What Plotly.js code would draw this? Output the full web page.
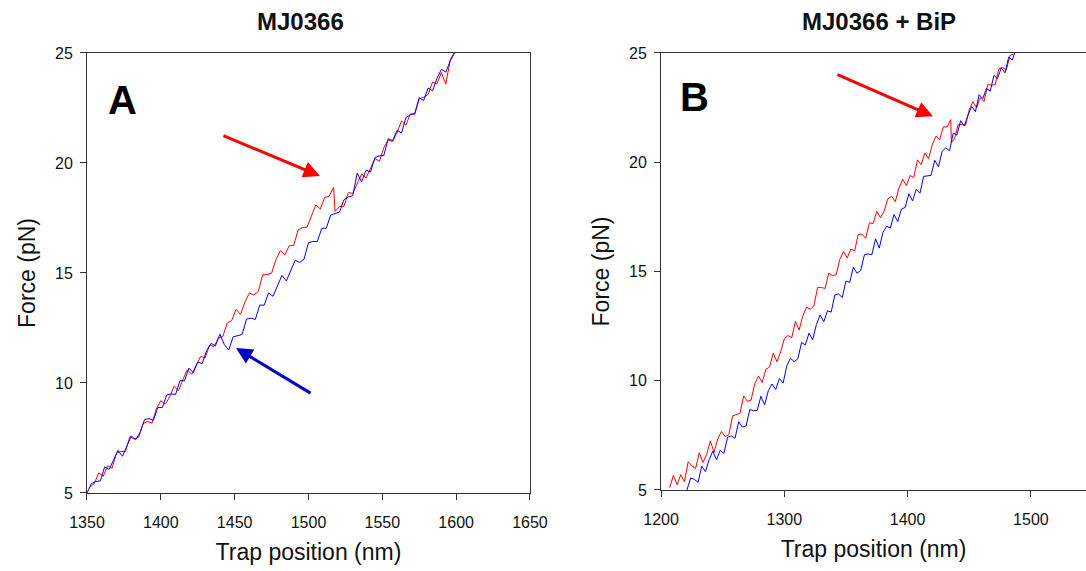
<!DOCTYPE html>
<html>
<head>
<meta charset="utf-8">
<script src="https://cdn.plot.ly/plotly-3.0.1.min.js"></script>
<style>html,body{margin:0;padding:0;background:#fff;}#chart{width:1086px;height:571px;}</style>
</head>
<body>
<div id="chart"></div>
<script>
// Panel A (MJ0366)
const panelA_title = "MJ0366";
const panelA_xTicks = [1350, 1400, 1450, 1500, 1550, 1600, 1650];
const panelA_redX = [1352,1355,1358,1361,1364,1367,1370,1373,1376,1379,1382,1385,1388,1391,1394,1397,1400,1403,1406,1409,1412,1415,1418,1421,1424,1427,1430,1433,1436,1439,
  1442,1445,1448,1451,1454,1457,1460,1463,1466,1469,1472,1475,1478,1481,1484,1487,1490,1493,1496,1499,1502,1505,1508,1511,1514,1517,
  1518,
  1521,1524,1527,1530,1533,1536,1539,1542,1545,1548,1551,1554,1557,1560,1563,1566,1569,1572,1575,1578,1581,1584,1587,1590,1593,1596,1599];
const panelA_redY = [5.26,5.44,5.92,5.76,6.24,6.13,6.81,6.89,6.88,7.56,7.45,7.53,8.16,8.25,8.18,8.82,9.20,9.03,9.37,9.85,9.64,10.17,10.60,10.39,10.82,11.21,11.14,11.72,11.66,12.04,
  12.12,12.73,12.84,13.35,13.12,13.68,14.09,14.00,14.16,14.92,14.93,14.99,15.61,16.02,15.83,16.24,16.25,16.96,17.07,17.08,17.59,18.10,17.91,18.43,18.49,18.90,
  17.80,
  18.02,18.03,18.65,18.62,19.04,19.50,19.32,19.79,20.20,20.07,20.69,21.05,20.97,21.39,21.91,21.72,22.24,22.21,22.92,22.99,23.11,23.68,23.59,24.11,23.58,24.69,25.06];
const panelA_blueX = [1350,1353,1356,1359,1362,1365,1368,1371,1374,1377,1380,1383,1386,1389,1392,1395,1398,1401,1404,1407,1410,1413,1416,1419,1422,1425,1428,1431,1434,1437,1440,
  1443,1446,1449,1452,1455,1458,1461,1464,1467,1470,1473,1476,1479,1482,1485,1488,1491,1494,1497,1500,1503,1506,1509,1512,1515,1518,
  1521,1524,1527,1530,1533,1536,1539,1542,1545,1548,1551,1554,1557,1560,1563,1566,1569,1572,1575,1578,1581,1584,1587,1590,1593,1596,1599,1602];
const panelA_blueY = [5.00,5.43,5.52,5.55,6.19,6.07,6.50,6.94,6.67,7.11,7.59,7.42,7.76,8.34,8.38,8.31,8.89,8.88,9.46,9.50,9.48,10.11,10.10,10.68,10.47,10.95,10.88,11.47,11.80,11.69,12.22,
  11.75,11.50,12.10,12.15,12.20,12.90,12.95,12.89,13.54,13.54,14.09,13.94,14.44,14.89,14.64,15.14,15.58,15.48,15.63,16.38,16.43,16.43,17.03,17.03,17.63,17.70,
  17.77,18.33,18.45,18.52,19.54,19.15,19.67,19.59,20.25,20.32,20.34,21.10,21.02,21.49,21.36,22.07,22.19,22.26,22.97,22.84,23.41,23.28,23.84,24.26,24.13,24.64,25.01,25.08];

// Panel B (MJ0366 + BiP)
const panelB_title = "MJ0366 + BiP";
const panelB_xTicks = [1200, 1300, 1400, 1500];
const panelB_redX = [1207,1210,1213,1216,1219,1222,1225,1228,1231,1234,1237,1240,1243,1246,1249,1252,1255,1258,1261,1264,1267,1270,1273,1276,1279,
  1282,1285,1288,1291,1294,1297,1300,1303,1306,1309,1312,1315,1318,1321,1324,1327,1330,1333,1336,1339,
  1342,1345,1348,1351,1354,1357,1360,1363,1366,1369,1372,1375,1378,1381,1384,1387,1390,1393,1396,1399,1402,1405,1408,
  1411,1414,1417,1420,1423,1426,1429,1432,1435,1435.5,
  1438,1441,1444,1447,1450,1453,1456,1459,1462,1465,1468,1471,1474,1477,1480,1483,1486];
const panelB_redY = [5.10,5.67,5.24,5.70,5.37,6.29,6.11,5.98,6.70,6.26,
  6.63,7.25,6.72,7.34,7.68,7.44,7.54,8.39,8.45,8.50,
  9.30,9.06,9.11,9.86,10.22,9.92,10.52,10.62,11.27,10.87,
  11.32,11.92,12.07,11.97,12.72,12.32,12.97,13.37,13.27,13.42,
  14.27,14.27,14.22,14.92,14.82,14.84,15.55,15.91,15.62,16.03,
  15.94,16.70,16.71,16.52,17.23,17.19,17.75,17.46,17.77,18.33,
  18.44,18.20,18.81,19.22,18.93,19.39,19.30,20.11,19.89,20.42,
  20.16,20.80,21.19,21.03,21.62,21.61,21.95,
  20.90,
  21.07,21.72,21.73,21.69,22.40,22.77,22.49,22.96,22.78,23.55,23.53,23.55,24.27,24.34,24.21,24.88,24.95];
const panelB_blueX = [1221,1224,1227,1230,1233,1236,1239,1242,1245,1248,1251,1254,1257,1260,1263,1266,1269,1272,1275,1278,1281,1284,1287,1290,1293,
  1296,1299,1302,1305,1308,1311,1314,1317,1320,1323,1326,1329,1332,1335,1338,1341,1344,1347,1350,1353,1356,
  1359,1362,1365,1368,1371,1374,1377,1380,1383,1386,1389,1392,1395,1398,1401,1404,1407,1410,1413,1416,1419,
  1422,1425,1428,1431,1434,1437,1440,1443,1446,1449,1452,1455,1458,1461,1464,1467,1470,1473,1476,1479,1482,1485,1488];
const panelB_blueY = [5.00,5.55,5.49,5.34,6.09,5.84,6.38,6.78,6.38,6.82,
  6.67,7.42,7.47,7.37,8.12,7.88,7.93,8.68,8.63,8.64,
  9.29,8.89,9.54,9.85,9.60,10.10,9.89,10.68,11.03,10.87,
  11.01,11.75,11.64,12.18,11.88,12.57,13.01,12.70,13.20,13.14,
  13.93,13.97,13.81,14.56,14.50,15.19,14.92,15.05,15.77,15.80,
  15.77,16.49,16.07,16.79,17.07,16.99,17.61,17.29,17.86,17.93,
  18.56,18.23,18.76,18.58,19.35,19.38,19.40,20.09,19.79,20.50,
  20.66,20.52,21.33,21.24,21.90,21.66,22.16,22.55,22.32,23.09,
  22.91,23.38,23.25,23.97,23.84,24.32,24.09,24.81,24.68,25.20];

const yTicks = [5, 10, 15, 20, 25];
const xTitle = "Trap position (nm)";
const yTitle = "Force (pN)";

const RED = "#FF0000", BLUE = "#0000FF";
const FONT = "Liberation Sans, Arial, Helvetica, sans-serif";

const traces = [
  {x: panelA_redX, y: panelA_redY, xaxis: "x", yaxis: "y", type: "scatter", mode: "lines", line: {color: RED, width: 1}, showlegend: false},
  {x: panelA_blueX, y: panelA_blueY, xaxis: "x", yaxis: "y", type: "scatter", mode: "lines", line: {color: BLUE, width: 1}, showlegend: false},
  {x: panelB_redX, y: panelB_redY, xaxis: "x2", yaxis: "y2", type: "scatter", mode: "lines", line: {color: RED, width: 1}, showlegend: false},
  {x: panelB_blueX, y: panelB_blueY, xaxis: "x2", yaxis: "y2", type: "scatter", mode: "lines", line: {color: BLUE, width: 1}, showlegend: false}
];

const axisCommon = {
  showgrid: false, zeroline: false, showline: true, linecolor: "#333", linewidth: 1,
  ticks: "outside", ticklen: 6, tickwidth: 1, tickcolor: "#333",
  tickfont: {family: FONT, size: 16, color: "#111"}, automargin: false, fixedrange: true
};

const layout = {
  width: 1086, height: 571,
  margin: {l: 0, r: 0, t: 0, b: 0},
  paper_bgcolor: "#fff", plot_bgcolor: "#fff",
  font: {family: FONT, color: "#111"},
  showlegend: false,
  xaxis: Object.assign({}, axisCommon, {
    domain: [0.0801, 0.4880], range: [1350, 1650], tickvals: panelA_xTicks, anchor: "y", mirror: true,
    ticklabelstandoff: 9,
    title: {text: xTitle, font: {family: FONT, size: 23, color: "#111"}, standoff: 13}
  }),
  yaxis: Object.assign({}, axisCommon, {
    domain: [0.1366, 0.9072], range: [5, 25], tickvals: yTicks, anchor: "x", mirror: true,
    ticklabelstandoff: 4,
    title: {text: yTitle, font: {family: FONT, size: 23, color: "#111"}, standoff: 12}
  }),
  xaxis2: Object.assign({}, axisCommon, {
    domain: [0.6087, 1.0], range: [1200, 1544.7], tickvals: panelB_xTicks, anchor: "y2", mirror: true,
    ticklabelstandoff: 9,
    title: {text: xTitle, font: {family: FONT, size: 23, color: "#111"}, standoff: 13}
  }),
  yaxis2: Object.assign({}, axisCommon, {
    domain: [0.1419, 0.9072], range: [5, 25], tickvals: yTicks, anchor: "x2", mirror: false,
    ticklabelstandoff: 4,
    title: {text: yTitle, font: {family: FONT, size: 23, color: "#111"}, standoff: 12}
  }),
  annotations: [
    {text: "<b>" + panelA_title + "</b>", xref: "paper", yref: "paper", x: 300/1086, y: 1 - 22/571, xanchor: "center", yanchor: "middle", showarrow: false, font: {family: FONT, size: 24, color: "#111"}},
    {text: "<b>" + panelB_title + "</b>", xref: "paper", yref: "paper", x: 879/1086, y: 1 - 22/571, xanchor: "center", yanchor: "middle", showarrow: false, font: {family: FONT, size: 24, color: "#111"}},
    {text: "<b>A</b>", xref: "paper", yref: "paper", x: 122/1086, y: 1 - 100/571, xanchor: "center", yanchor: "middle", showarrow: false, font: {family: FONT, size: 40, color: "#000"}},
    {text: "<b>B</b>", xref: "paper", yref: "paper", x: 694/1086, y: 1 - 97/571, xanchor: "center", yanchor: "middle", showarrow: false, font: {family: FONT, size: 40, color: "#000"}},
    {text: "", xref: "x", yref: "y", axref: "x", ayref: "y", x: 1507.8, y: 19.41, ax: 1441.4, ay: 21.27, showarrow: true, arrowhead: 2, arrowsize: 1.1, arrowwidth: 3, arrowcolor: RED, standoff: 0},
    {text: "", xref: "x", yref: "y", axref: "x", ayref: "y", x: 1450.9, y: 11.59, ax: 1502.4, ay: 9.5, showarrow: true, arrowhead: 2, arrowsize: 1.1, arrowwidth: 3, arrowcolor: "#0000CC", standoff: 0},
    {text: "", xref: "x2", yref: "y2", axref: "x2", ayref: "y2", x: 1420.6, y: 22.1, ax: 1341.9, ay: 24.04, showarrow: true, arrowhead: 2, arrowsize: 1.1, arrowwidth: 3, arrowcolor: RED, standoff: 0}
  ]
};

Plotly.newPlot("chart", traces, layout, {displayModeBar: false, staticPlot: true});
</script>
</body>
</html>
